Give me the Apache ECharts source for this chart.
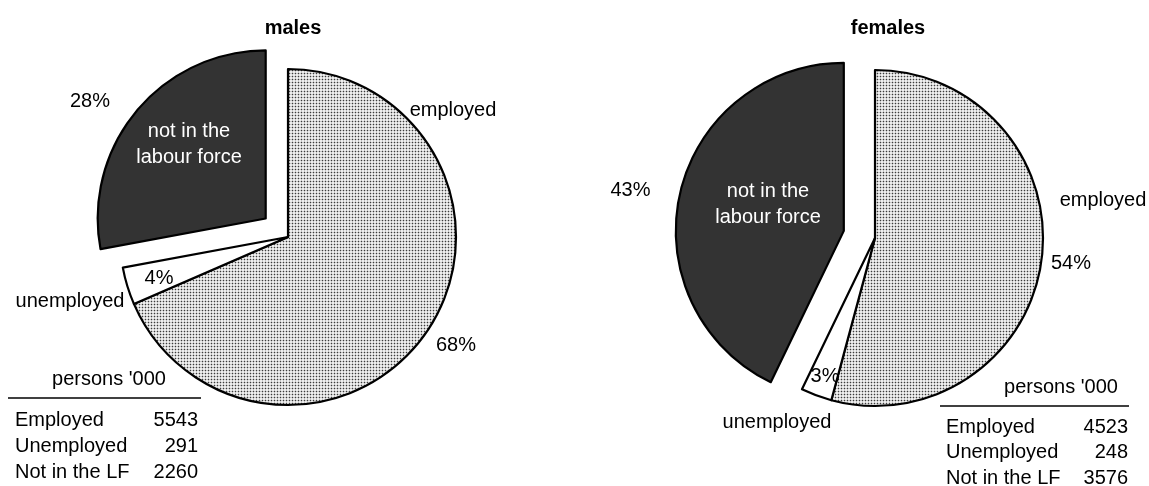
<!DOCTYPE html>
<html>
<head>
<meta charset="utf-8">
<script src="https://cdn.jsdelivr.net/npm/echarts@6/dist/echarts.min.js"></script>
<style>
html,body{margin:0;padding:0;background:#fff;}
#chart{width:1149px;height:486px;}
</style>
</head>
<body>
<div id="chart"></div>
<script>
// ---- data ----
const titles = ['males', 'females'];
const categories = ['employed', 'unemployed', 'not in the labour force'];
const sliceLabels = ['employed', 'unemployed', 'not in the\nlabour force'];
const malesValues = [5543, 291, 2260];
const femalesValues = [4523, 248, 3576];
const tableHeader = "persons '000";
const tableRowLabels = ['Employed', 'Unemployed', 'Not in the LF'];

// ---- styling / layout ----
const FONT = '"Liberation Sans", Arial, Helvetica, sans-serif';
const FS = 20;

function makeDots() {
  const c = document.createElement('canvas');
  c.width = 3; c.height = 3;
  const g = c.getContext('2d');
  g.fillStyle = '#eeeeee';
  g.fillRect(0, 0, 3, 3);
  g.fillStyle = '#c4c4c4';
  g.fillRect(0, 1, 3, 1);
  g.fillRect(1, 0, 1, 3);
  g.fillStyle = '#3c3c3c';
  g.fillRect(1, 1, 1, 1);
  return c;
}
const dots = makeDots();
const fills = [{ image: dots, repeat: 'repeat' }, '#ffffff', '#333333'];

const panels = [
  {
    values: malesValues, center: [288, 237], radius: 168, offset: 29,
    titlePos: [293, 28],
    pctPos: [[456, 345], [159, 278], [108, 93]],
    namePos: [[453, 110], [70, 301], [189, 144]],
    table: { headX: 109, headY: 379, lineX1: 8, lineX2: 201, lineY: 398, left: 15, right: 198, rows: [420, 446, 472] }
  },
  {
    values: femalesValues, center: [875, 238], radius: 168, offset: 32,
    titlePos: [888, 28],
    pctPos: [[1071, 263], [825, 376], [649, 189]],
    namePos: [[1103, 200], [777, 422], [768, 204]],
    table: { headX: 1061, headY: 387, lineX1: 940, lineX2: 1129, lineY: 406, left: 946, right: 1128, rows: [427, 452, 478] }
  }
];

const series = [];
const graphic = [];

panels.forEach((p, pi) => {
  // shapes + percentage labels
  series.push({
    type: 'pie',
    center: p.center,
    radius: p.radius,
    startAngle: 90,
    clockwise: true,
    selectedMode: 'single',
    selectedOffset: p.offset,
    avoidLabelOverlap: false,
    percentPrecision: 0,
    animation: false,
    emphasis: { disabled: true },
    itemStyle: { borderColor: '#000', borderWidth: 2.2 },
    select: { itemStyle: { color: '#333333', borderColor: '#000', borderWidth: 2.2 } },
    label: { show: true, formatter: '{d}%', color: '#000', fontSize: FS, fontFamily: FONT },
    labelLine: { show: false },
    labelLayout: (params) => {
      const q = p.pctPos[params.dataIndex];
      return { x: q[0], y: q[1], align: 'center', verticalAlign: 'middle' };
    },
    data: p.values.map((v, i) => ({
      name: categories[i], value: v, selected: i === 2,
      itemStyle: { color: fills[i] }
    }))
  });
  // category-name labels (invisible slices)
  series.push({
    type: 'pie',
    center: p.center,
    radius: p.radius,
    startAngle: 90,
    clockwise: true,
    silent: true,
    avoidLabelOverlap: false,
    animation: false,
    z: 5,
    itemStyle: { color: 'rgba(0,0,0,0)', borderWidth: 0 },
    label: {
      show: true,
      formatter: (params) => sliceLabels[params.dataIndex],
      color: '#000', fontSize: FS, fontFamily: FONT, lineHeight: 26, align: 'center'
    },
    labelLine: { show: false },
    labelLayout: (params) => {
      const q = p.namePos[params.dataIndex];
      return { x: q[0], y: q[1], align: 'center', verticalAlign: 'middle' };
    },
    data: p.values.map((v, i) => ({
      name: categories[i], value: v,
      label: i === 2 ? { color: '#ffffff' } : {}
    }))
  });

  // title
  graphic.push({
    type: 'text', x: p.titlePos[0], y: p.titlePos[1], silent: true,
    style: { text: titles[pi], fill: '#000', font: 'bold ' + FS + 'px ' + FONT, align: 'center', verticalAlign: 'middle' }
  });
  // table
  const t = p.table;
  graphic.push({
    type: 'text', x: t.headX, y: t.headY, silent: true,
    style: { text: tableHeader, fill: '#000', font: FS + 'px ' + FONT, align: 'center', verticalAlign: 'middle' }
  });
  graphic.push({
    type: 'line', silent: true,
    shape: { x1: t.lineX1, y1: t.lineY, x2: t.lineX2, y2: t.lineY },
    style: { stroke: '#000', lineWidth: 1.5 }
  });
  tableRowLabels.forEach((lab, i) => {
    graphic.push({
      type: 'text', x: t.left, y: t.rows[i], silent: true,
      style: { text: lab, fill: '#000', font: FS + 'px ' + FONT, align: 'left', verticalAlign: 'middle' }
    });
    graphic.push({
      type: 'text', x: t.right, y: t.rows[i], silent: true,
      style: { text: String(p.values[i]), fill: '#000', font: FS + 'px ' + FONT, align: 'right', verticalAlign: 'middle' }
    });
  });
});

const chart = echarts.init(document.getElementById('chart'), null, { renderer: 'canvas' });
chart.setOption({
  backgroundColor: '#ffffff',
  animation: false,
  series: series,
  graphic: graphic
});
</script>
</body>
</html>
